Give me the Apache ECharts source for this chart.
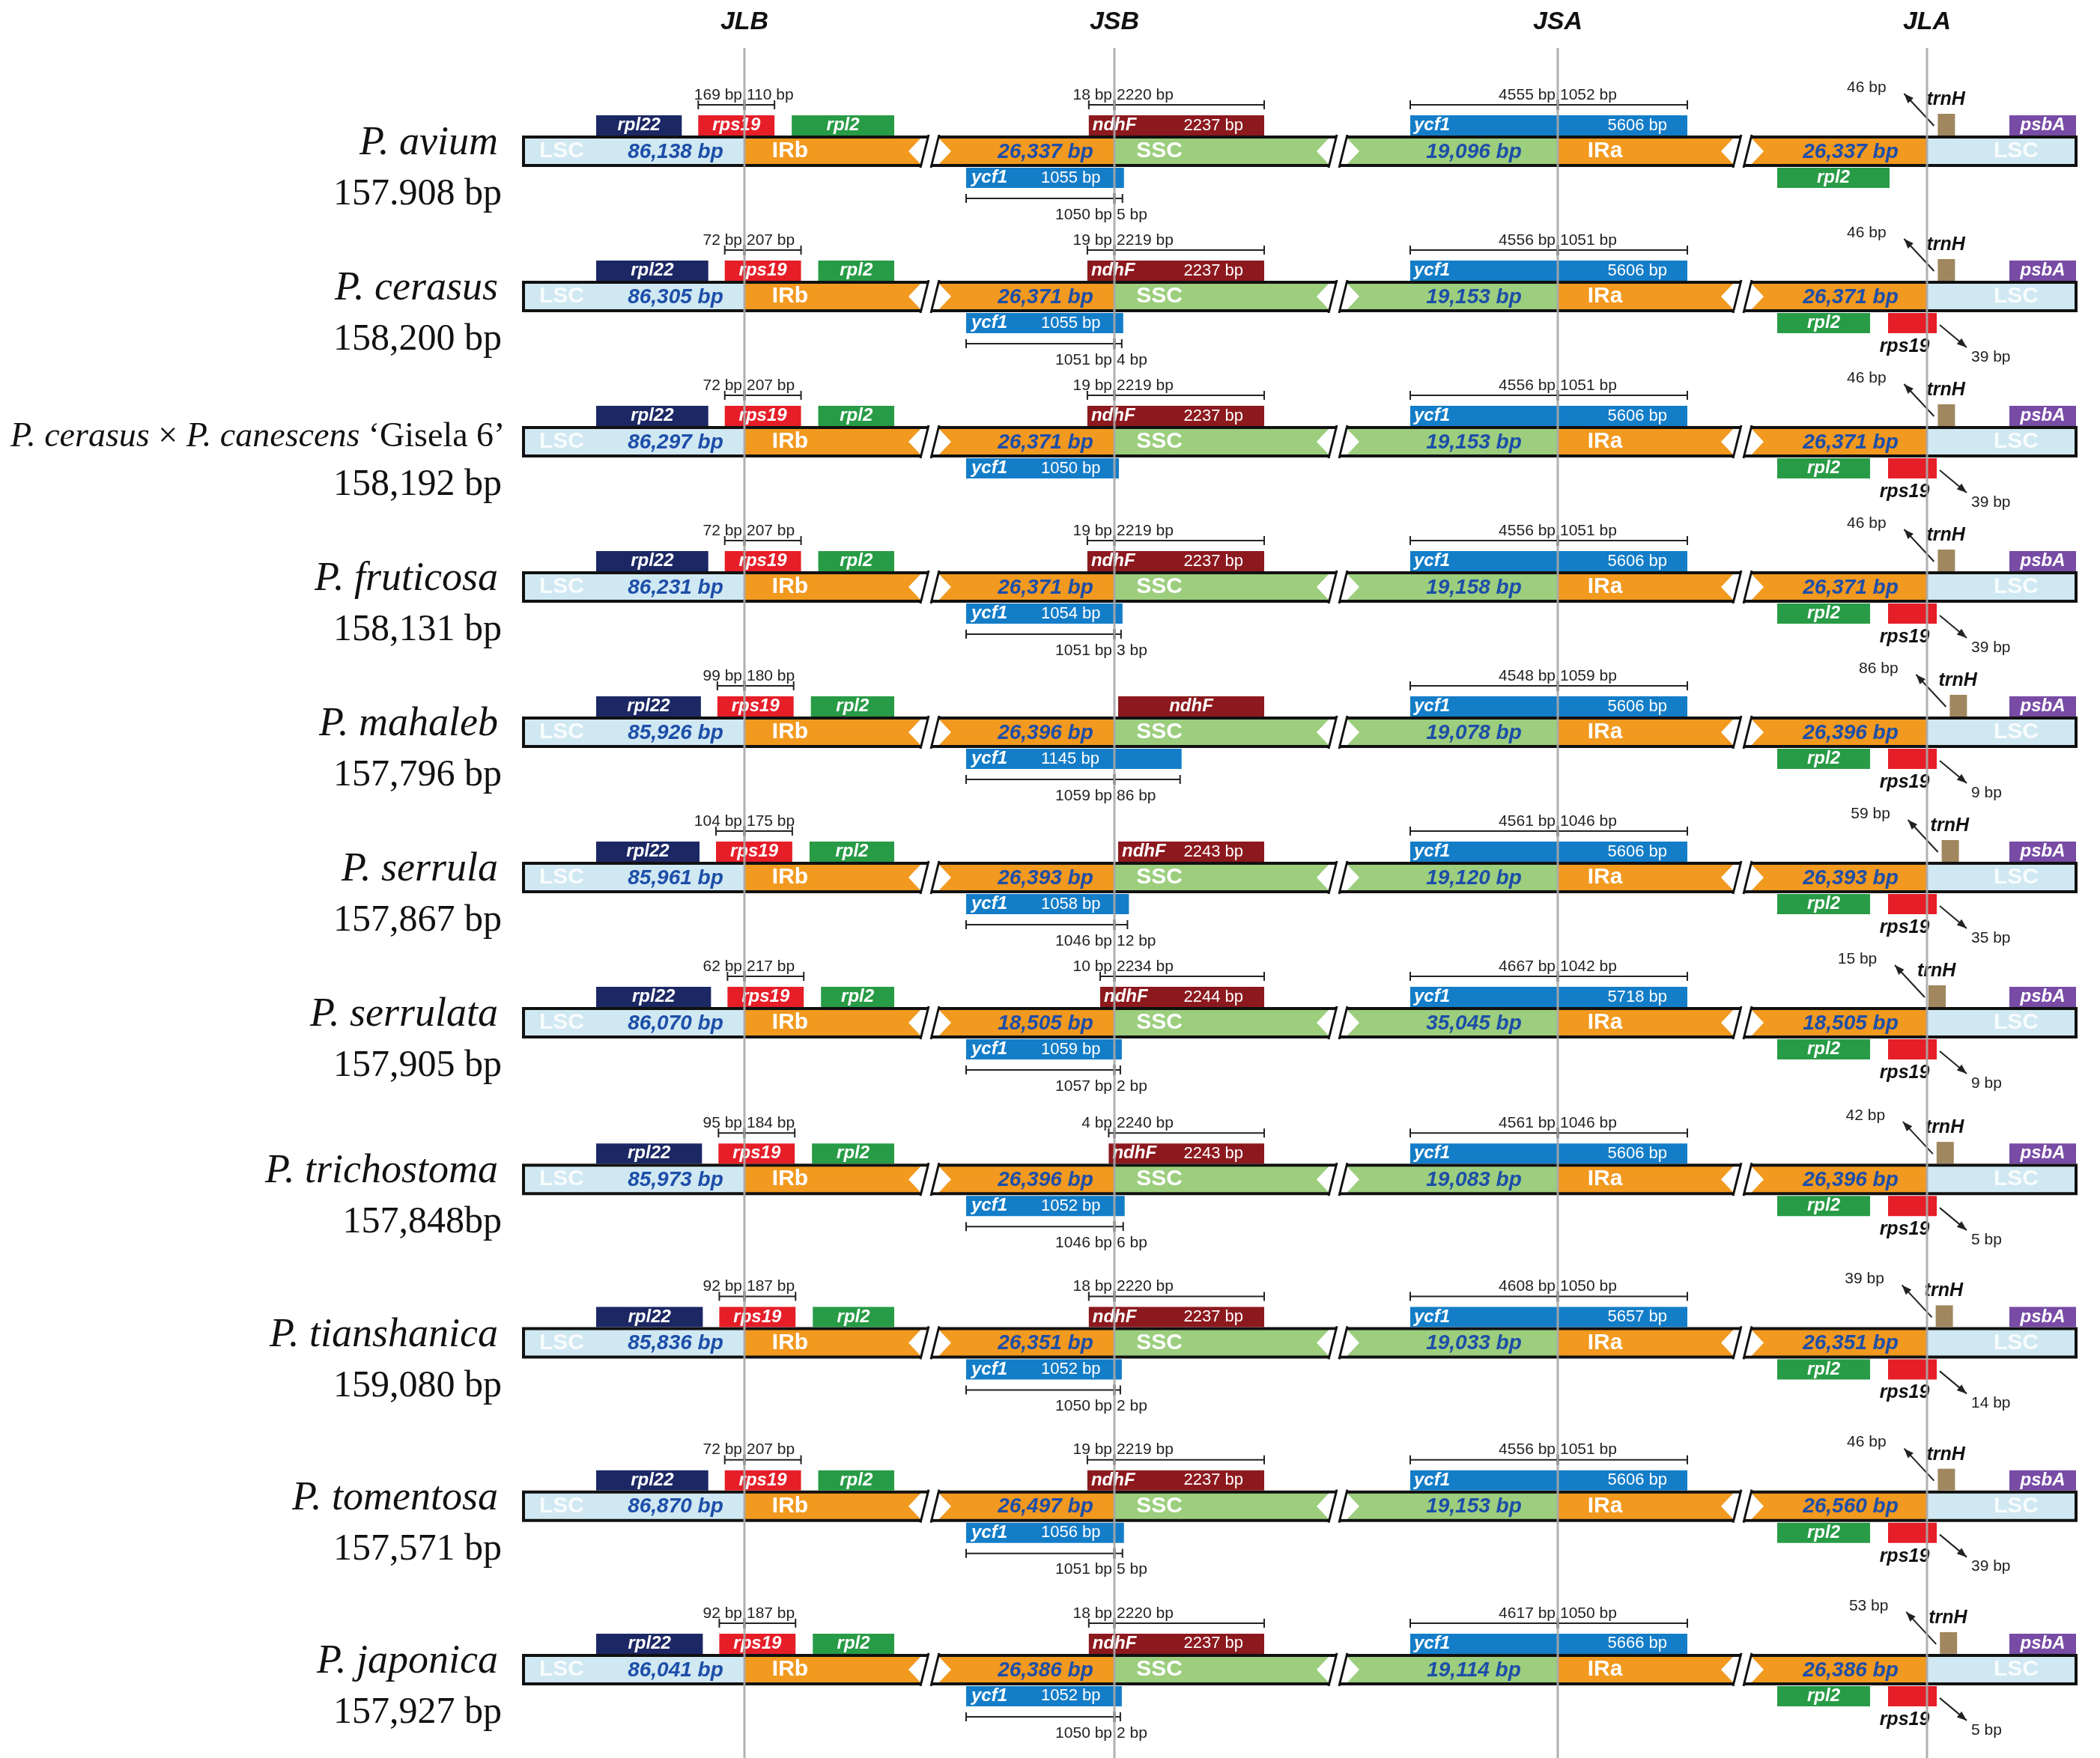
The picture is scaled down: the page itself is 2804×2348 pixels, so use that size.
<!DOCTYPE html>
<html>
<head>
<meta charset="utf-8">
<script src="https://cdn.jsdelivr.net/npm/echarts@6.0.0/dist/echarts.min.js"></script>
<style>
  html, body { margin: 0; padding: 0; background: #fff; }
  #main { width: 2804px; height: 2348px; }
</style>
</head>
<body>
<div id="main"></div>
<script>
// 物种与基因组大小
const species = ['P. avium', 'P. cerasus', 'P. cerasus × P. canescens ‘Gisela 6’', 'P. fruticosa', 'P. mahaleb',
  'P. serrula', 'P. serrulata', 'P. trichostoma', 'P. tianshanica', 'P. tomentosa', 'P. japonica'];
const genomeSize = ['157.908 bp', '158,200 bp', '158,192 bp', '158,131 bp', '157,796 bp', '157,867 bp',
  '157,905 bp', '157,848bp', '159,080 bp', '157,571 bp', '157,927 bp'];

// 区段长度 (bp)
const lscLen = [86138, 86305, 86297, 86231, 85926, 85961, 86070, 85973, 85836, 86870, 86041];
const irbLen = [26337, 26371, 26371, 26371, 26396, 26393, 18505, 26396, 26351, 26497, 26386];
const sscLen = [19096, 19153, 19153, 19158, 19078, 19120, 35045, 19083, 19033, 19153, 19114];
const iraLen = [26337, 26371, 26371, 26371, 26396, 26393, 18505, 26396, 26351, 26560, 26386];

// JLB: rps19 跨界
const rps19Lsc = [169, 72, 72, 72, 99, 104, 62, 95, 92, 72, 92];
const rps19Irb = [110, 207, 207, 207, 180, 175, 217, 184, 187, 207, 187];
// JSB: ndhF 与 ycf1
const ndhFIrb = [18, 19, 19, 19, null, null, 10, 4, 18, 19, 18];
const ndhFSsc = [2220, 2219, 2219, 2219, null, null, 2234, 2240, 2220, 2219, 2220];
const ndhFLen = [2237, 2237, 2237, 2237, null, 2243, 2244, 2243, 2237, 2237, 2237];
const ycf1bLen = [1055, 1055, 1050, 1054, 1145, 1058, 1059, 1052, 1052, 1056, 1052];
const ycf1bIrb = [1050, 1051, null, 1051, 1059, 1046, 1057, 1046, 1050, 1051, 1050];
const ycf1bSsc = [5, 4, null, 3, 86, 12, 2, 6, 2, 5, 2];
// JSA: ycf1
const ycf1aSsc = [4555, 4556, 4556, 4556, 4548, 4561, 4667, 4561, 4608, 4556, 4617];
const ycf1aIra = [1052, 1051, 1051, 1051, 1059, 1046, 1042, 1046, 1050, 1051, 1050];
const ycf1aLen = [5606, 5606, 5606, 5606, 5606, 5606, 5718, 5606, 5657, 5606, 5666];
// JLA: trnH 距离, rps19 距离
const trnHGap = [46, 46, 46, 46, 86, 59, 15, 42, 39, 46, 53];
const rps19aGap = [null, 39, 39, 39, 9, 35, 9, 5, 14, 39, 5];

const junctions = ['JLB', 'JSB', 'JSA', 'JLA'];

// 示意图布局 (x 轴单位)
const L = {
  barStart: 699, barEnd: 2772,
  junctionX: [994, 1488, 2080, 2573],
  breaks: [1213, 1758, 2298],
  jlbScale: 0.365, ndhScale: 1.9,
  rpl22Start: 796, rpl2End: 1194, ndhEnd: 1688,
  ycf1bStart: 1290, ycf1aStart: 1883, ycf1aEnd: 2253,
  rpl2aStart: 2373, rps19aStart: 2521, rps19aEnd: 2586,
  psbAStart: 2683,
  barH: 38, geneUp: -48, geneDown: 22, geneH: 27
};
const C = {
  lsc: '#d0e8f2', ir: '#f2991f', ssc: '#9cce7e', bp: '#1d4ea8',
  rpl22: '#1c2864', rps19: '#e61e28', rpl2: '#289b46', ndhF: '#8c191e',
  ycf1: '#147dc8', trnH: '#a0875f', psbA: '#784ba5'
};
const SANS = '"Liberation Sans", Arial, sans-serif';
const SERIF = '"Liberation Serif", "Times New Roman", serif';
const font = (size, style, weight, fam) => (style || 'normal') + ' ' + (weight || 'normal') + ' ' + size + 'px ' + (fam || SANS);
const fmt = n => n.toLocaleString('en-US');

const geneFont = font(24, 'italic', 'bold');
const geneBpFont = font(22);
const tickFont = font(21);

function renderRow(params, api) {
  const i = api.value(2);
  const slot = api.value(1);
  const P = x => api.coord([x, slot])[0];
  const cy = api.coord([0, slot])[1];
  const J = L.junctionX;
  const kids = [];
  const upMid = L.geneUp + L.geneH / 2, downMid = L.geneDown + L.geneH / 2;

  const box = (x0, x1, dy, h, fill) => kids.push({
    type: 'rect', shape: { x: P(x0), y: cy + dy, width: P(x1) - P(x0), height: h }, style: { fill: fill }
  });
  const txt = (x, dy, s, f, fill, align, extra) => kids.push({
    type: 'text', x: P(x), y: cy + dy,
    style: Object.assign({ text: s, font: f, fill: fill || '#fff', align: align || 'center', verticalAlign: 'middle' }, extra || {})
  });
  const pl = (pts, w, color) => kids.push({
    type: 'polyline', shape: { points: pts.map(p => [P(p[0]), cy + p[1]]) },
    style: { stroke: color || '#222', lineWidth: w || 2, fill: null }
  });
  const pg = (pts, fill) => kids.push({
    type: 'polygon', shape: { points: pts.map(p => [P(p[0]), cy + p[1]]) }, style: { fill: fill }
  });
  const bracket = (x0, xj, x1, dy) => {
    pl([[x0, dy], [x1, dy]]);
    pl([[x0, dy - 6], [x0, dy + 6]]);
    pl([[x1, dy - 6], [x1, dy + 6]]);
    pl([[xj, dy - 7], [xj, dy + 7]], 3);
  };
  const arrow = (x0, y0, x1, y1) => {
    const a = [P(x0), cy + y0], b = [P(x1), cy + y1];
    kids.push({ type: 'line', shape: { x1: a[0], y1: a[1], x2: b[0], y2: b[1] }, style: { stroke: '#222', lineWidth: 2 } });
    const ang = Math.atan2(b[1] - a[1], b[0] - a[0]);
    const bx = b[0] - 13 * Math.cos(ang), by = b[1] - 13 * Math.sin(ang);
    kids.push({ type: 'polygon', shape: { points: [b,
      [bx - 5 * Math.sin(ang), by + 5 * Math.cos(ang)],
      [bx + 5 * Math.sin(ang), by - 5 * Math.cos(ang)]] }, style: { fill: '#222' } });
  };

  // 物种名与基因组大小
  if (species[i].indexOf('×') > 0) {
    const parts = species[i].split(' × ');
    const tail = parts[1].split(' ‘');
    txt(14, -6, '{i|' + parts[0] + '} × {i|' + tail[0] + '} ‘' + tail[1], font(46, 'normal', 'normal', SERIF), '#111', 'left',
      { rich: { i: { fontStyle: 'italic', fontFamily: SERIF, fontSize: 46, fill: '#111' } } });
  } else {
    txt(665, -10, species[i], font(54, 'italic', 'normal', SERIF), '#111', 'right');
  }
  txt(670, 58, genomeSize[i], font(50, 'normal', 'normal', SERIF), '#111', 'right');

  // 基因组条
  const segs = [[L.barStart, J[0], C.lsc], [J[0], J[1], C.ir], [J[1], J[2], C.ssc], [J[2], J[3], C.ir], [J[3], L.barEnd, C.lsc]];
  segs.forEach(s => box(s[0], s[1], -L.barH / 2, L.barH, s[2]));
  kids.push({ type: 'rect', shape: { x: P(L.barStart), y: cy - L.barH / 2, width: P(L.barEnd) - P(L.barStart), height: L.barH },
    style: { fill: null, stroke: '#111', lineWidth: 4 } });
  L.breaks.forEach(b => {
    pg([[b, 0], [b + 16, -17], [b + 41, -17], [b + 57, 0], [b + 41, 17], [b + 16, 17]], '#fff');
    pg([[b + 16, 23], [b + 27, -23], [b + 41, -23], [b + 30, 23]], '#fff');
    pl([[b + 16, 22], [b + 27, -22]], 3, '#111');
    pl([[b + 30, 22], [b + 41, -22]], 3, '#111');
  });
  const segFont = font(30, 'normal', 'bold');
  const bpFont = font(28, 'italic', 'bold');
  txt(750, 0, 'LSC', segFont, 'rgba(255,255,255,0.85)');
  txt(902, 1, fmt(lscLen[i]) + ' bp', bpFont, C.bp);
  txt(1055, 0, 'IRb', segFont);
  txt(1396, 1, fmt(irbLen[i]) + ' bp', bpFont, C.bp);
  txt(1548, 0, 'SSC', segFont);
  txt(1968, 1, fmt(sscLen[i]) + ' bp', bpFont, C.bp);
  txt(2143, 0, 'IRa', segFont);
  txt(2471, 1, fmt(iraLen[i]) + ' bp', bpFont, C.bp);
  txt(2692, 0, 'LSC', segFont, 'rgba(255,255,255,0.85)');

  // JLB
  const rs0 = J[0] - rps19Lsc[i] * L.jlbScale, rs1 = J[0] + rps19Irb[i] * L.jlbScale;
  box(L.rpl22Start, rs0 - 22, L.geneUp, L.geneH, C.rpl22);
  txt((L.rpl22Start + rs0 - 22) / 2, upMid, 'rpl22', geneFont);
  box(rs0, rs1, L.geneUp, L.geneH, C.rps19);
  txt((rs0 + rs1) / 2, upMid, 'rps19', geneFont);
  box(rs1 + 23, L.rpl2End, L.geneUp, L.geneH, C.rpl2);
  txt((rs1 + 23 + L.rpl2End) / 2, upMid, 'rpl2', geneFont);
  bracket(rs0, J[0], rs1, -62);
  txt(J[0] - 3, -75, rps19Lsc[i] + ' bp', tickFont, '#222', 'right');
  txt(J[0] + 3, -75, rps19Irb[i] + ' bp', tickFont, '#222', 'left');

  // JSB
  const nd0 = ndhFIrb[i] != null ? J[1] - ndhFIrb[i] * L.ndhScale : J[1] + 5;
  box(nd0, L.ndhEnd, L.geneUp, L.geneH, C.ndhF);
  if (ndhFLen[i] != null) {
    txt(nd0 + 5, upMid, 'ndhF', geneFont, '#fff', 'left');
    txt(L.ndhEnd - 28, upMid, ndhFLen[i] + ' bp', geneBpFont, '#fff', 'right');
  } else {
    txt((nd0 + L.ndhEnd) / 2, upMid, 'ndhF', geneFont);
  }
  if (ndhFIrb[i] != null) {
    bracket(nd0, J[1], L.ndhEnd, -62);
    txt(J[1] - 3, -75, ndhFIrb[i] + ' bp', tickFont, '#222', 'right');
    txt(J[1] + 3, -75, ndhFSsc[i] + ' bp', tickFont, '#222', 'left');
  }
  const yb1 = ycf1bSsc[i] != null ? J[1] + 8 + ycf1bSsc[i] * 0.95 : J[1] + 6;
  box(L.ycf1bStart, yb1, L.geneDown, L.geneH, C.ycf1);
  txt(L.ycf1bStart + 7, downMid, 'ycf1', geneFont, '#fff', 'left');
  txt(L.ycf1bStart + 100, downMid, ycf1bLen[i] + ' bp', geneBpFont, '#fff', 'left');
  if (ycf1bIrb[i] != null) {
    bracket(L.ycf1bStart, J[1], yb1 - 2, 63);
    txt(J[1] - 3, 85, ycf1bIrb[i] + ' bp', tickFont, '#222', 'right');
    txt(J[1] + 3, 85, ycf1bSsc[i] + ' bp', tickFont, '#222', 'left');
  }

  // JSA
  box(L.ycf1aStart, L.ycf1aEnd, L.geneUp, L.geneH, C.ycf1);
  txt(L.ycf1aStart + 5, upMid, 'ycf1', geneFont, '#fff', 'left');
  txt(L.ycf1aEnd - 27, upMid, ycf1aLen[i] + ' bp', geneBpFont, '#fff', 'right');
  bracket(L.ycf1aStart, J[2], L.ycf1aEnd, -62);
  txt(J[2] - 3, -75, ycf1aSsc[i] + ' bp', tickFont, '#222', 'right');
  txt(J[2] + 3, -75, ycf1aIra[i] + ' bp', tickFont, '#222', 'left');

  // JLA
  const t0 = J[3] + trnHGap[i] * 0.4 - 4;
  box(t0, t0 + 23, -50, 29, C.trnH);
  arrow(t0 - 5, -34, t0 - 45, -77);
  txt(t0 - 95, -85, trnHGap[i] + ' bp', font(21), '#222');
  txt(t0 - 15, -69, 'trnH', font(25, 'italic', 'bold'), '#111', 'left');
  box(L.psbAStart, L.barEnd, L.geneUp, L.geneH, C.psbA);
  txt((L.psbAStart + L.barEnd) / 2, upMid, 'psbA', geneFont);
  const r2End = rps19aGap[i] != null ? 2497 : 2523;
  box(L.rpl2aStart, r2End, L.geneDown, L.geneH, C.rpl2);
  txt((L.rpl2aStart + r2End) / 2, downMid, 'rpl2', geneFont);
  if (rps19aGap[i] != null) {
    box(L.rps19aStart, L.rps19aEnd, L.geneDown, L.geneH, C.rps19);
    txt(2543, 67, 'rps19', font(25, 'italic', 'bold'), '#111');
    arrow(L.rps19aEnd + 4, 38, L.rps19aEnd + 40, 68);
    txt(L.rps19aEnd + 46, 81, rps19aGap[i] + ' bp', font(21), '#222', 'left');
  }

  return { type: 'group', children: kids };
}

function renderJunction(params, api) {
  const x = api.coord([api.value(0), 0])[0];
  const cy = api.coord([0, 0])[1];
  const h = api.size([0, 1])[1];
  const top = cy - h / 2;
  return {
    type: 'group', children: [
      { type: 'line', shape: { x1: x, y1: top, x2: x, y2: cy + h / 2 }, style: { stroke: '#a8a8a8', lineWidth: 3, opacity: 0.9 } },
      { type: 'text', x: x, y: top - 34, style: { text: junctions[api.value(2)], font: font(34, 'italic', 'bold'), fill: '#111', align: 'center', verticalAlign: 'middle' } }
    ]
  };
}

const chart = echarts.init(document.getElementById('main'));
const xAxisBase = { type: 'value', min: 0, max: 2804, show: false };
chart.setOption({
  animation: false,
  backgroundColor: '#fff',
  grid: [
    { left: 0, right: 0, top: 105, height: 1358 },
    { left: 0, right: 0, top: 1466, height: 873 },
    { left: 0, right: 0, top: 64, bottom: 0 }
  ],
  xAxis: [0, 1, 2].map(g => Object.assign({ gridIndex: g }, xAxisBase)),
  yAxis: [
    { gridIndex: 0, type: 'category', data: species.slice(0, 7), inverse: true, show: false },
    { gridIndex: 1, type: 'category', data: species.slice(7), inverse: true, show: false },
    { gridIndex: 2, type: 'category', data: ['junction'], show: false }
  ],
  series: [
    { type: 'custom', xAxisIndex: 0, yAxisIndex: 0, clip: false, silent: true, z: 2, renderItem: renderRow,
      data: species.slice(0, 7).map((s, k) => [0, k, k]) },
    { type: 'custom', xAxisIndex: 1, yAxisIndex: 1, clip: false, silent: true, z: 2, renderItem: renderRow,
      data: species.slice(7).map((s, k) => [0, k, k + 7]) },
    { type: 'custom', xAxisIndex: 2, yAxisIndex: 2, clip: false, silent: true, z: 5, renderItem: renderJunction,
      data: junctions.map((j, k) => [L.junctionX[k], 0, k]) }
  ]
});
</script>
</body>
</html>
